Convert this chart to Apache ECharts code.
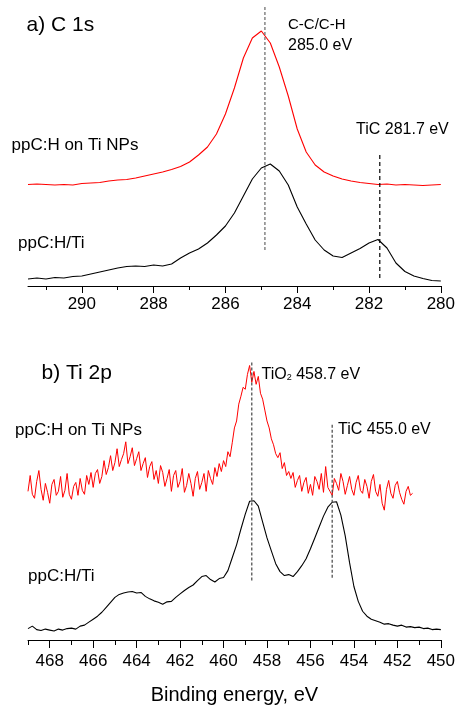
<!DOCTYPE html>
<html><head><meta charset="utf-8">
<script src="https://cdn.jsdelivr.net/npm/echarts@6/dist/echarts.min.js"></script>
<style>html,body{margin:0;padding:0;background:#fff}#chart{width:458px;height:706px}</style>
</head><body><div id="chart"></div>
<script>
// ---------- Panel a) C 1s : binding energy grid (eV) and offset intensities (a.u.) ----------
const c1sEnergyStart = 291.5, c1sEnergyStep = -0.25;
const c1sTiNPs = [
  101.5, 102, 101.5, 101, 101.5, 101, 102.5, 103, 103.5, 105,
  106, 106.5, 108, 110, 112, 114, 116.5, 119.5, 124, 131,
  139, 152, 172, 198, 228, 248, 255, 243, 219, 190,
  157, 134, 121, 114, 110, 107, 105, 103.5, 102.5, 101.5,
  102, 101, 101.5, 101, 100.5, 101, 101.5
];
const c1sTi = [
  7, 8, 7, 8.5, 8, 9.5, 10, 12, 14, 16,
  18, 19.5, 20, 19.5, 21, 20, 22, 28, 33, 37,
  43, 51, 60, 73, 90, 107, 118, 122, 115, 101,
  79, 62, 46, 36, 30, 28.5, 33, 37.5, 43, 46.5,
  38, 23, 14.5, 10, 7.5, 5.5, 5
];
const c1sMajorTicks = [280, 282, 284, 286, 288, 290];
const c1sMinorTicks = [281, 283, 285, 287, 289, 291];
// reference lines: [energy, lower intensity, upper intensity]
const c1sRefCC = [284.9, 36, 281];
const c1sRefTiC = [281.7, 8, 134];

// ---------- Panel b) Ti 2p ----------
const ti2pNPsEnergyStart = 469.0, ti2pNPsEnergyStep = -0.1;
const ti2pTiNPs = [
  150,166,147,143,160,171,152,141,158,149,
  138,157,162,146,150,165,144,151,168,147,
  142,155,159,146,163,151,147,166,157,169,
  154,168,172,158,165,181,167,174,186,171,
  179,193,175,182,188,200,178,185,194,176,
  183,190,171,178,184,164,175,180,162,171,
  158,176,169,155,163,172,150,166,171,154,
  160,173,149,156,168,158,145,163,170,152,
  159,168,150,171,163,157,174,165,178,170,
  181,175,190,185,199,214,221,238,246,255,
  253,268,277,260,271,258,266,249,243,232,
  221,214,203,197,188,184,189,173,179,166,
  170,163,169,154,161,166,150,159,164,148,
  157,146,165,160,152,168,149,175,154,150,
  146,163,158,151,168,160,147,156,165,152,
  146,159,166,151,148,162,155,143,160,167,
  150,145,157,138,131,152,161,148,143,156,
  160,149,142,137,150,155,146,148
];
const ti2pTiEnergyStart = 469.0, ti2pTiEnergyStep = -0.2;
const ti2pTi = [
  11.5,14,10.5,9.5,11,10,9,11,10,11.5,
  12,11,14,15,18,21,24,28,33,38,
  43,46,47.5,48.5,49,47.5,48,44,41.5,39.5,
  38,36,38.5,39,43,46.5,50,53,55.5,60,
  64,65,61,58.5,62,63,70,83,96,112,
  127,140,140.5,135,119,103,90,77,69,65,
  66,64,69,75,82,92,103,114,125,134,
  139,139.5,126,105,78,54,39,29,24,21,
  19.5,18,16,16.5,15,14,15,13,13.5,12.5,
  13,11.5,12,10.5,11,10.5
];
const ti2pMajorTicks = [450, 452, 454, 456, 458, 460, 462, 464, 466, 468];
const ti2pMinorTicks = [451, 453, 455, 457, 459, 461, 463, 465, 467, 469];
const ti2pRefTiO2 = [458.7, 60, 281];
const ti2pRefTiC = [455.0, 62.7, 217.7];

// ---------- build ----------
function pairs(start, step, values) {
  return values.map((v, i) => [+(start + i * step).toFixed(3), v]);
}
function refLine(r) { return [[r[0], r[1]], [r[0], r[2]]]; }

const FONT = "'Liberation Sans', Arial, Helvetica, sans-serif";
const chart = echarts.init(document.getElementById('chart'), null, {renderer: 'canvas'});

function xAxes(grid, min, max, major, minor, margin, majLen, minLen, withName) {
  const base = {
    gridIndex: grid, type: 'value', min: min, max: max, inverse: true, position: 'bottom',
    splitLine: {show: false}
  };
  const main = Object.assign({}, base, {
    axisLine: {show: true, onZero: false, lineStyle: {color: '#000', width: 1}},
    axisTick: {show: true, customValues: major, length: majLen, lineStyle: {color: '#000', width: 1}},
    axisLabel: {show: true, customValues: major, margin: margin, fontSize: 17, color: '#000', fontFamily: FONT}
  });
  if (withName) {
    Object.assign(main, {
      name: 'Binding energy, eV', nameLocation: 'middle', nameGap: 45,
      nameTextStyle: {fontSize: 20, color: '#000', fontFamily: FONT}
    });
  }
  const minorAx = Object.assign({}, base, {
    axisLine: {show: false, onZero: false},
    axisTick: {show: true, customValues: minor, length: minLen, lineStyle: {color: '#000', width: 1}},
    axisLabel: {show: false}
  });
  return [main, minorAx];
}

const lineSeries = (xi, yi, data, color, width) => ({
  type: 'line', xAxisIndex: xi, yAxisIndex: yi, data: data, symbol: 'none',
  lineStyle: {color: color, width: width}, silent: true, z: 2
});
const dashSeries = (xi, yi, data, color, dash) => ({
  type: 'line', xAxisIndex: xi, yAxisIndex: yi, data: data, symbol: 'none',
  lineStyle: {color: color, width: 1.2, type: dash}, silent: true, z: 3
});

function label(text, x, y, size) {
  return {type: 'text', x: x, y: y, silent: true,
    style: {text: text, fontSize: size, fontFamily: FONT, fill: '#000', align: 'left', verticalAlign: 'middle'}};
}

const option = {
  animation: false,
  backgroundColor: '#ffffff',
  textStyle: {fontFamily: FONT},
  grid: [
    {left: 28, right: 14, top: 0, bottom: 420},
    {left: 28, right: 14.3, top: 342.7, bottom: 63.3}
  ],
  xAxis: [
    ...xAxes(0, 280, 291.5, c1sMajorTicks, c1sMinorTicks, 10, 7, 4, false),
    ...xAxes(1, 450, 469, ti2pMajorTicks, ti2pMinorTicks, 13, 8, 5, true)
  ],
  yAxis: [
    {gridIndex: 0, type: 'value', min: 0, max: 286, show: false},
    {gridIndex: 1, type: 'value', min: 0, max: 300, show: false}
  ],
  series: [
    lineSeries(0, 0, pairs(c1sEnergyStart, c1sEnergyStep, c1sTiNPs), '#ff0000', 1.1),
    lineSeries(0, 0, pairs(c1sEnergyStart, c1sEnergyStep, c1sTi), '#000000', 1.1),
    dashSeries(0, 0, refLine(c1sRefCC), '#666666', [3, 2]),
    dashSeries(0, 0, refLine(c1sRefTiC), '#000000', [4, 3]),
    lineSeries(2, 1, pairs(ti2pNPsEnergyStart, ti2pNPsEnergyStep, ti2pTiNPs), '#ff0000', 1),
    lineSeries(2, 1, pairs(ti2pTiEnergyStart, ti2pTiEnergyStep, ti2pTi), '#000000', 1.1),
    dashSeries(2, 1, refLine(ti2pRefTiO2), '#444444', [3, 2]),
    dashSeries(2, 1, refLine(ti2pRefTiC), '#444444', [3, 2])
  ],
  graphic: [
    label('a) C 1s', 26.5, 25, 21),
    label('C-C/C-H', 288, 25, 15),
    label('285.0 eV', 288, 45.5, 16),
    label('ppC:H on Ti NPs', 11.5, 145.5, 17),
    label('TiC 281.7 eV', 356, 129.5, 16),
    label('ppC:H/Ti', 18, 243, 17),
    label('b) Ti 2p', 41.5, 373, 21),
    label('ppC:H on Ti NPs', 15, 430.5, 17),
    {type: 'text', x: 261.5, y: 373.5, silent: true,
      style: {text: '{m|TiO}{s|2}{m| 458.7 eV}', fontFamily: FONT, fill: '#000',
        align: 'left', verticalAlign: 'middle',
        rich: {
          m: {fontSize: 16, lineHeight: 18, verticalAlign: 'bottom', fontFamily: FONT, fill: '#000'},
          s: {fontSize: 9, lineHeight: 3, verticalAlign: 'bottom', fontFamily: FONT, fill: '#000'}
        }}},
    label('TiC 455.0 eV', 338, 429.5, 16),
    label('ppC:H/Ti', 28, 576, 17)
  ]
};
chart.setOption(option);
</script></body></html>
